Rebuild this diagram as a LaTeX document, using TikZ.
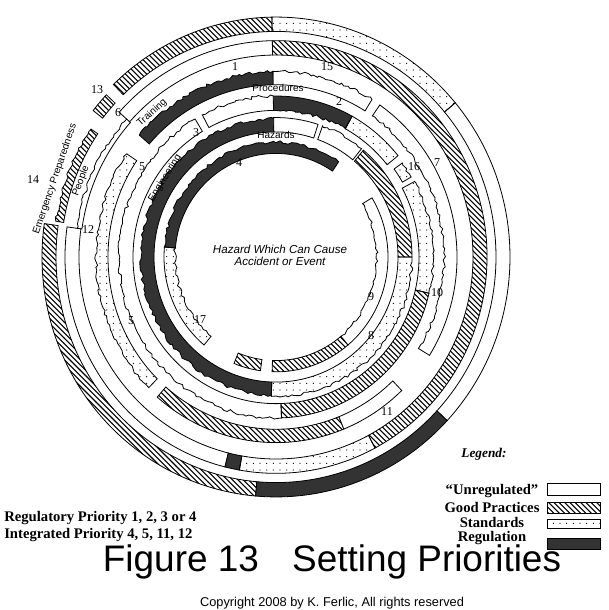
\documentclass[tikz,border=0pt]{standalone}
\usepackage{fontspec}
\setmainfont{Liberation Serif}
\setsansfont{Liberation Sans}
\usetikzlibrary{patterns,decorations.pathmorphing}

\pgfdeclarepatternformonly{good hatch}{\pgfqpoint{-1pt}{-1pt}}{\pgfqpoint{5pt}{5pt}}{\pgfqpoint{4pt}{4pt}}{%
  \pgfsetlinewidth{0.8pt}
  \pgfpathmoveto{\pgfqpoint{0pt}{4pt}}
  \pgfpathlineto{\pgfqpoint{4.1pt}{-0.1pt}}
  \pgfusepath{stroke}}
\pgfdeclarepatternformonly{std dots}{\pgfqpoint{-1pt}{-1pt}}{\pgfqpoint{1pt}{1pt}}{\pgfqpoint{5pt}{5pt}}{%
  \pgfpathcircle{\pgfqpoint{0pt}{0pt}}{0.45pt}
  \pgfusepath{fill}}

% ring piece: style, inner radius, outer radius, start angle, end angle
\newcommand\ringseg[5]{\draw[#1] (#4:#3) arc[start angle=#4, end angle=#5, radius=#3] -- (#5:#2) arc[start angle=#5, end angle=#4, radius=#2] -- cycle;}
\newcommand\ringsegout[5]{\draw[#1] (#4:#3) decorate[jag]{arc[start angle=#4, end angle=#5, radius=#3]} -- (#5:#2) arc[start angle=#5, end angle=#4, radius=#2] -- cycle;}
\newcommand\ringsegin[5]{\draw[#1] (#4:#3) arc[start angle=#4, end angle=#5, radius=#3] -- (#5:#2) decorate[jag]{arc[start angle=#5, end angle=#4, radius=#2]} -- cycle;}

\begin{document}
\begin{tikzpicture}[x=0.75pt, y=-0.75pt]
   \tikzstyle{free}=[draw, line width=0.6pt, fill=white]
   \tikzstyle{good}=[draw, line width=0.6pt, pattern=good hatch]
   \tikzstyle{std}=[draw, line width=0.6pt, pattern=std dots]
   \tikzstyle{reg}=[draw, line width=0.6pt, fill=black!80]
   \tikzstyle{jag}=[decoration={random steps, segment length=2.5pt, amplitude=1.1pt}]
   \tikzstyle{numlabel}=[inner sep=0pt, font=\fontsize{9}{9}\selectfont]
   \tikzstyle{ringlabel}=[inner sep=0pt, font=\sffamily\fontsize{7.5}{7.5}\selectfont]
   \tikzstyle{keytext}=[inner sep=0pt, font=\bfseries\fontsize{11}{11}\selectfont]
   \pgfmathsetseed{13}

\useasboundingbox (0,0) rectangle (608,610);

\begin{scope}[shift={(276,257)}, y=0.769pt]
    % ring A
    \ringseg{free}{220}{234}{-43}{40}
    \ringseg{std}{220}{234}{40}{91}
    \ringseg{good}{220}{234}{91}{134}
    \ringseg{good}{220}{232}{137}{142}
    \ringsegout{good}{215}{223}{146}{171}
    \ringseg{good}{220}{234}{172}{265}
    \ringseg{reg}{220}{234}{265}{317}
    % ring B
    \ringseg{good}{197}{211}{-62}{91}
    \ringseg{free}{197}{211}{91}{138}
    \ringsegout{free}{196}{201}{138}{172}
    \ringseg{free}{197}{211}{172}{256}
    \ringseg{reg}{197}{211}{256}{260}
    \ringseg{std}{197}{211}{260}{298}
    % ring C
    \ringseg{good}{168}{181}{229}{292}
    \ringseg{free}{168}{181}{292}{314}
    \ringsegin{free}{168}{181}{-32}{55}
    \ringsegout{free}{168}{181}{58}{91}
    \ringsegout{reg}{168}{181}{91}{139}
    \ringsegout{std}{168}{180}{146}{225}
    % ring D
    \ringsegin{reg}{143}{157}{61}{91}
    \ringsegout{free}{143}{157}{91}{118}
    \ringsegout{free}{143}{157}{121}{272}
    \ringseg{good}{143}{157}{272}{347}
    \ringsegout{std}{143}{157}{-13}{28}
    \ringsegout{std}{146}{156}{30}{36}
    \ringseg{std}{143}{157}{39}{61}
    % ring E
    \ringsegout{reg}{122}{135}{91}{268}
    \ringsegout{std}{122}{136}{268}{360}
    \ringseg{good}{122}{136}{0}{50}
    \ringsegout{free}{122}{136}{51}{70}
    \ringseg{free}{122}{136}{72}{91}
    % ring F
    \ringsegout{reg}{101}{112}{56}{175}
    \ringsegin{std}{101}{112}{175}{230}
    \ringseg{good}{101}{112}{248}{262}
    \ringseg{good}{101}{112}{268}{310}
    \ringsegin{free}{101}{112}{310}{391}
\end{scope}

\node[numlabel] (n1) at (235,67) {1};
\node[numlabel] (n2) at (339,102) {2};
\node[numlabel] (n3) at (196,133) {3};
\node[numlabel] (n4) at (239,163) {4};
\node[numlabel] (n5a) at (142,167) {5};
\node[numlabel] (n5b) at (131,321) {5};
\node[numlabel] (n6) at (118,113) {6};
\node[numlabel] (n7) at (437,163) {7};
\node[numlabel] (n8) at (371,336) {8};
\node[numlabel] (n9) at (371,297) {9};
\node[numlabel] (n10) at (437,293) {10};
\node[numlabel] (n11) at (387,412) {11};
\node[numlabel] (n12) at (88,230) {12};
\node[numlabel] (n13) at (97,90) {13};
\node[numlabel] (n14) at (33,180) {14};
\node[numlabel] (n15) at (327,67) {15};
\node[numlabel] (n16) at (414,167) {16};
\node[numlabel] (n17) at (200,320) {17};

\node[ringlabel] (procedures) at (278,88) {Procedures};
\node[ringlabel] (hazards) at (276,135) {Hazards};
\node[ringlabel, rotate=42] (training) at (152,113) {Training};
\node[ringlabel, rotate=58] (engineering) at (165,178) {Engineering};
\node[ringlabel, rotate=69] (people) at (81,181) {People};
\node[ringlabel, rotate=71] (emergency) at (55,179) {Emergency Preparedness};
\node[align=center, font=\sffamily\itshape\fontsize{8.7}{9}\selectfont] (hazard) at (280,255) {Hazard Which Can Cause\\Accident or Event};

\node[font=\bfseries\itshape\fontsize{10}{10}\selectfont] (legend) at (484,454) {Legend:};
\node[keytext] (kfree) at (492,491) {“Unregulated”};
\node[keytext] (kgood) at (492,507) {Good Practices};
\node[keytext] (kstd) at (492,522) {Standards};
\node[keytext] (kreg) at (492,538) {Regulation};
\draw[free] (547,483) rectangle (600,495);
\draw[good] (547,502) rectangle (600,513);
\draw[std] (547,519) rectangle (600,528);
\draw[reg] (547,538) rectangle (600,549);

\node[keytext, anchor=west] (prioreg) at (4,518) {Regulatory Priority 1, 2, 3 or 4};
\node[keytext, anchor=west] (priointeg) at (4,535) {Integrated Priority 4, 5, 11, 12};
\node[anchor=base, font=\sffamily\fontsize{27.7}{28}\selectfont] (title) at (332,571) {Figure 13\hspace{0.9em}Setting Priorities};
\node[anchor=base, font=\sffamily\fontsize{9.6}{10}\selectfont] (copyright) at (332,606) {Copyright 2008 by K. Ferlic, All rights reserved};

\end{tikzpicture}
\end{document}
